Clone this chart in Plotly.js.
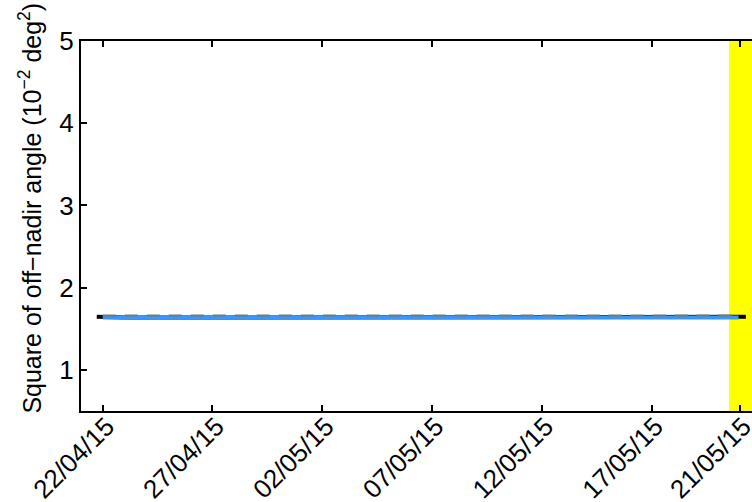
<!DOCTYPE html>
<html>
<head>
<meta charset="utf-8">
<script src="https://cdn.plot.ly/plotly-3.0.1.min.js"></script>
<style>html,body{margin:0;padding:0;background:#fff}#chart{width:752px;height:502px}</style>
</head>
<body>
<div id="chart"></div>
<script>
// Tick positions and labels
const tickDates = ['2015-04-22','2015-04-27','2015-05-02','2015-05-07','2015-05-12','2015-05-17','2015-05-21'];
const tickLabels = ['22/04/15','27/04/15','02/05/15','07/05/15','12/05/15','17/05/15','21/05/15'];
const yTicks = [1,2,3,4,5];

// Raw series (black)
const rawDates = ['2015-04-21 17:30','2015-04-23','2015-04-25','2015-04-27','2015-04-29','2015-05-01','2015-05-03','2015-05-05','2015-05-07','2015-05-09','2015-05-11','2015-05-12','2015-05-13','2015-05-15','2015-05-16','2015-05-17','2015-05-19','2015-05-21 07:00'];
const rawValues = [1.645,1.637,1.637,1.637,1.637,1.637,1.637,1.637,1.637,1.637,1.640,1.646,1.638,1.638,1.644,1.638,1.637,1.645];

// Smoothed series (blue)
const smoothDates = ['2015-04-22','2015-04-26','2015-04-30','2015-05-04','2015-05-08','2015-05-12','2015-05-14','2015-05-16','2015-05-18','2015-05-20 23:00'];
const smoothValues = [1.636,1.636,1.636,1.636,1.636,1.634,1.632,1.634,1.634,1.636];

// Reference level (dashed)
const refDates = ['2015-04-22','2015-05-21'];
const refValues = [1.66,1.66];

// Highlighted period
const bandStart = '2015-05-20 12:30';
const bandEnd = '2015-05-23';

function f(s){ return {family: 'Liberation Sans', size: s, color: '#000000'}; }

const traces = [
  {x: rawDates, y: rawValues, type: 'scatter', mode: 'lines', line: {color: '#000', width: 4}, showlegend: false},
  {x: smoothDates, y: smoothValues, type: 'scatter', mode: 'lines', line: {color: 'rgb(51,153,255)', width: 4}, showlegend: false},
  {x: refDates, y: refValues, type: 'scatter', mode: 'lines', line: {color: '#777', width: 2, dash: '13px,9px'}, showlegend: false}
];

const layout = {
  width: 752, height: 502,
  margin: {l: 81, r: 0, t: 41, b: 91},
  paper_bgcolor: '#fff', plot_bgcolor: '#fff',
  font: f(26),
  showlegend: false,
  xaxis: {
    type: 'date',
    range: ['2015-04-21 00:17','2015-05-21 13:40'],
    tickmode: 'array', tickvals: tickDates, ticktext: tickLabels, tickangle: -45,
    ticks: 'inside', ticklen: 6, tickwidth: 2, tickcolor: '#000',
    ticklabelstandoff: -12, ticklabelshift: 4, ticklabeloverflow: 'allow',
    showline: true, linecolor: '#000', linewidth: 2, mirror: 'ticks',
    showgrid: false, zeroline: false, tickfont: f(26), automargin: false
  },
  yaxis: {
    range: [0.5, 5],
    tickmode: 'array', tickvals: yTicks, ticktext: yTicks.map(String),
    ticks: 'inside', ticklen: 6, tickwidth: 2, tickcolor: '#000',
    showline: true, linecolor: '#000', linewidth: 2, mirror: false,
    showgrid: false, zeroline: false, tickfont: f(26), automargin: false
  },
  shapes: [{
    type: 'rect', xref: 'x', yref: 'paper', x0: bandStart, x1: bandEnd, y0: 0, y1: 1,
    fillcolor: '#ffff00', line: {width: 0}, layer: 'below'
  }],
  annotations: [{
    text: 'Square of off\u2212nadir angle (10<sup>\u22122</sup> deg<sup>2</sup>)',
    xref: 'paper', yref: 'paper', x: -0.076, y: 0.547,
    xanchor: 'center', yanchor: 'middle', textangle: -90,
    showarrow: false, font: f(25)
  }]
};

Plotly.newPlot('chart', traces, layout, {displayModeBar: false});
</script>
</body>
</html>
